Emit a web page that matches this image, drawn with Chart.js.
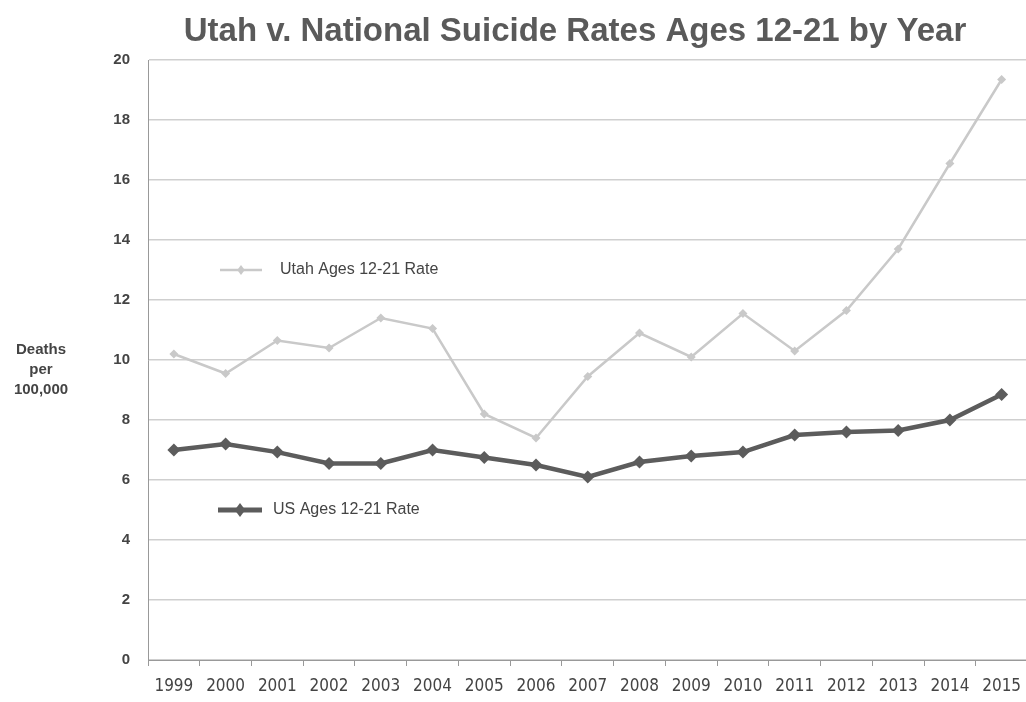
<!DOCTYPE html>
<html>
<head>
<meta charset="utf-8">
<script src="https://cdn.jsdelivr.net/npm/chart.js@4/dist/chart.umd.min.js"></script>
<style>
  html, body { margin: 0; padding: 0; background: #fff; overflow: hidden; }
  #wrap { width: 1034px; height: 702px; }
</style>
</head>
<body>
<div id="wrap"><canvas id="chart" width="1034" height="702"></canvas></div>
<script>
const years = ['1999', '2000', '2001', '2002', '2003', '2004', '2005', '2006', '2007',
    '2008', '2009', '2010', '2011', '2012', '2013', '2014', '2015'];
const utahRates = [10.2, 9.55, 10.65, 10.4, 11.4, 11.05, 8.2, 7.4, 9.45,
    10.9, 10.1, 11.55, 10.3, 11.65, 13.7, 16.55, 19.35];
const usRates = [7.0, 7.2, 6.93, 6.55, 6.55, 7.0, 6.75, 6.5, 6.1,
    6.6, 6.8, 6.93, 7.5, 7.6, 7.65, 8.0, 8.85];
const yTicks = [0, 2, 4, 6, 8, 10, 12, 14, 16, 18, 20];
const yTitleLines = ['Deaths', 'per', '100,000'];
const chartTitle = 'Utah v. National Suicide Rates Ages 12-21 by Year';

const utahColor = '#c9c9c9';
const usColor = '#5c5c5c';

function drawDiamond(ctx, x, y, r, color) {
    ctx.beginPath();
    ctx.moveTo(x, y - r);
    ctx.lineTo(x + r * 0.75, y);
    ctx.lineTo(x, y + r);
    ctx.lineTo(x - r * 0.75, y);
    ctx.closePath();
    ctx.fillStyle = color;
    ctx.fill();
}

// title over the plot, legend entries inside the plot, horizontal y title on the left
const extrasPlugin = {
    id: 'extras',
    afterDraw(chart) {
        const ctx = chart.ctx;
        const area = chart.chartArea;
        const yScale = chart.scales.y;
        ctx.save();

        ctx.fillStyle = '#5a5a5a';
        ctx.font = 'bold 33px "Liberation Sans", Arial, sans-serif';
        ctx.textAlign = 'center';
        ctx.textBaseline = 'middle';
        ctx.fillText(chartTitle, 575, 32);

        const entries = [
            { label: 'Utah Ages 12-21 Rate', value: 13, color: utahColor, width: 2.5, r: 5, x0: 72, x1: 114, tx: 132 },
            { label: 'US Ages 12-21 Rate', value: 5, color: usColor, width: 5, r: 7, x0: 70, x1: 114, tx: 125 }
        ];
        entries.forEach(e => {
            const y = yScale.getPixelForValue(e.value);
            ctx.strokeStyle = e.color;
            ctx.lineWidth = e.width;
            ctx.beginPath();
            ctx.moveTo(area.left + e.x0, y);
            ctx.lineTo(area.left + e.x1, y);
            ctx.stroke();
            drawDiamond(ctx, area.left + (e.x0 + e.x1) / 2, y, e.r, e.color);
            ctx.fillStyle = '#444';
            ctx.font = '16px "Liberation Sans", Arial, sans-serif';
            ctx.textAlign = 'left';
            ctx.textBaseline = 'middle';
            ctx.fillText(e.label, area.left + e.tx, y);
        });

        ctx.fillStyle = '#444';
        ctx.font = 'bold 15px "Liberation Sans", Arial, sans-serif';
        ctx.textAlign = 'center';
        ctx.textBaseline = 'middle';
        const midY = (area.top + area.bottom) / 2 + 10;
        yTitleLines.forEach((line, i) => {
            ctx.fillText(line, 41, midY + (i - 1) * 20);
        });
        ctx.restore();
    }
};

new Chart(document.getElementById('chart'), {
    type: 'line',
    data: {
        labels: years,
        datasets: [
            {
                label: 'Utah Ages 12-21 Rate',
                data: utahRates,
                borderColor: utahColor,
                backgroundColor: utahColor,
                borderWidth: 2.5,
                pointStyle: 'rectRot',
                pointRadius: 4.5,
                pointBorderWidth: 0,
                tension: 0
            },
            {
                label: 'US Ages 12-21 Rate',
                data: usRates,
                borderColor: usColor,
                backgroundColor: usColor,
                borderWidth: 4.5,
                pointStyle: 'rectRot',
                pointRadius: 6.5,
                pointBorderWidth: 0,
                tension: 0
            }
        ]
    },
    options: {
        responsive: false,
        animation: false,
        layout: { padding: { left: 0, right: 0, top: 60, bottom: 0 } },
        plugins: {
            legend: { display: false },
            tooltip: { enabled: false },
            title: { display: false }
        },
        scales: {
            x: {
                offset: true,
                grid: {
                    drawOnChartArea: false,
                    drawTicks: true,
                    tickLength: 6,
                    offset: true,
                    color: '#999'
                },
                border: { color: '#999', width: 1 },
                ticks: {
                    color: '#444',
                    padding: 10,
                    maxRotation: 0,
                    autoSkip: false,
                    font: { family: '"DejaVu Sans Condensed", "Liberation Sans Narrow", sans-serif', size: 17 }
                },
                afterFit(scale) { scale.height = 42; }
            },
            y: {
                min: 0,
                max: 20,
                afterBuildTicks(scale) { scale.ticks = yTicks.map(v => ({ value: v })); },
                grid: { color: '#cfcfcf', lineWidth: 1.5, drawTicks: false },
                border: { color: '#999', width: 1 },
                ticks: {
                    color: '#444',
                    padding: 18,
                    font: { family: '"Liberation Sans", Arial, sans-serif', size: 15, weight: 'bold' }
                },
                afterFit(scale) { scale.width = 148; }
            }
        }
    },
    plugins: [extrasPlugin]
});
</script>
</body>
</html>
